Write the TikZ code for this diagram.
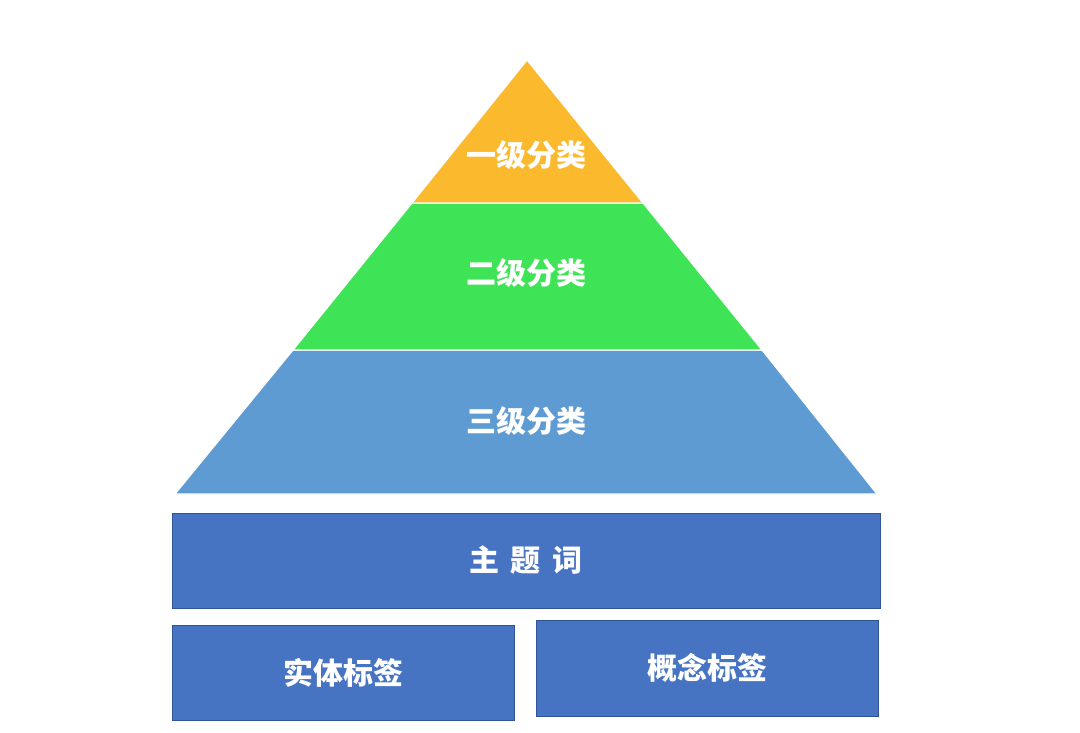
\documentclass[tikz,border=0pt]{standalone}
\usepackage{fontspec}
\newfontfamily\cjk{Noto Sans CJK SC}
\definecolor{lvlone}{HTML}{FBBA2E}
\definecolor{lvltwo}{HTML}{3EE456}
\definecolor{lvlthree}{HTML}{5E9BD3}
\definecolor{darkbox}{HTML}{4674C3}
\definecolor{darkedge}{HTML}{2F5597}
\tikzset{
  layer/.style={draw=white, line width=1.2pt, line join=miter},
  lbl/.style={text=white, font=\cjk\bfseries\fontsize{30}{34}\selectfont, inner sep=0pt},
  boxlbl/.style={text=white, font=\cjk\bfseries\fontsize{30}{34}\selectfont, inner sep=0pt},
  base/.style={draw=darkedge, line width=0.6pt, fill=darkbox},
}
\begin{document}
\begin{tikzpicture}[x=1pt,y=-1pt]
\useasboundingbox (0,0) rectangle (1080,732);
% pyramid layers
\path[layer, fill=lvlthree] (293,350) -- (762,350) -- (877,494) -- (175,494) -- cycle;
\path[layer, fill=lvltwo] (412,203) -- (643,203) -- (762,350) -- (293,350) -- cycle;
\path[layer, fill=lvlone] (527,60) -- (643,203) -- (412,203) -- cycle;
\node[lbl] (one) at (526,155) {一级分类};
\node[lbl] (two) at (526,273) {二级分类};
\node[lbl] (three) at (526,421) {三级分类};
% base boxes
\node[base, minimum width=708pt, minimum height=95pt, inner sep=0pt] (topic) at (526,560.5) {};
\node[boxlbl] at (topic.center) {主\hspace{0.4em}题\hspace{0.4em}词};
\node[base, minimum width=342pt, minimum height=95pt, inner sep=0pt] (entity) at (343,672.5) {};
\node[boxlbl] at (entity.center) {实体标签};
\node[base, minimum width=342pt, minimum height=96pt, inner sep=0pt] (concept) at (707,668) {};
\node[boxlbl] at (concept.center) {概念标签};
\end{tikzpicture}
\end{document}
